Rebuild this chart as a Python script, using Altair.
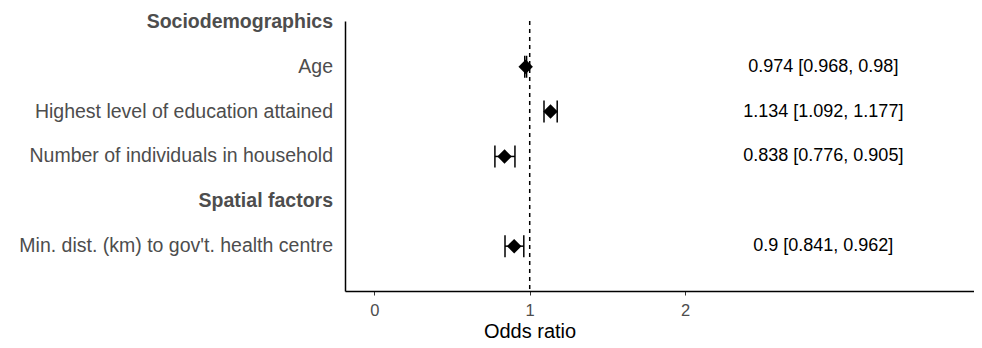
import altair as alt
import pandas as pd

# Data
labels = ["Age", "Highest level of education attained",
          "Number of individuals in household",
          "Min. dist. (km) to gov't. health centre"]
row_pos = [5, 4, 3, 1]
odds = [0.974, 1.134, 0.838, 0.9]
lower = [0.968, 1.092, 0.776, 0.841]
upper = [0.98, 1.177, 0.905, 0.962]
ci_text = ["0.974 [0.968, 0.98]", "1.134 [1.092, 1.177]",
           "0.838 [0.776, 0.905]", "0.9 [0.841, 0.962]"]

headers = ["Sociodemographics", "Spatial factors"]
header_pos = [6, 2]

x_ticks = [0, 1, 2]
ref_value = [1]
text_x = 2.89

df = pd.DataFrame({"label": labels, "y": row_pos, "or": odds,
                   "lo": lower, "hi": upper, "txt": ci_text})
dh = pd.DataFrame({"label": headers, "y": header_pos})
dref = pd.DataFrame({"x": ref_value})

FONT = "Liberation Sans"
xscale = alt.Scale(domain=[-0.189, 3.86], nice=False, zero=False)
yscale = alt.Scale(domain=[0, 6.02], nice=False, zero=False)

xaxis = alt.Axis(values=x_ticks, format="d", title="Odds ratio", grid=False,
                 domainColor="black", domainWidth=1.5,
                 tickColor="#333333", tickSize=4, tickWidth=1,
                 labelColor="#4D4D4D", labelFontSize=16.5,
                 labelFont=FONT, labelBaseline="alphabetic",
                 labelPadding=20,
                 titleFont=FONT, titleFontSize=20,
                 titleFontWeight="normal", titleColor="black",
                 titleX=184.5, titleY=46, titleAlign="center",
                 titleBaseline="alphabetic")
yaxis = alt.Axis(labels=False, ticks=False, title=None, grid=False,
                 domainColor="black", domainWidth=1.5)

base = alt.Chart(df)

ref = alt.Chart(dref).mark_rule(color="black", strokeDash=[4, 4],
                                strokeWidth=1.5).encode(
    x=alt.X("x:Q", scale=xscale, axis=xaxis))

bars = base.mark_rule(color="black", strokeWidth=1.5).encode(
    x=alt.X("lo:Q", scale=xscale, axis=xaxis), x2="hi:Q",
    y=alt.Y("y:Q", scale=yscale, axis=yaxis))

cap_lo = base.mark_rule(color="black", strokeWidth=1.5, yOffset=-11,
                        y2Offset=11).encode(
    x=alt.X("lo:Q", scale=xscale), y=alt.Y("y:Q", scale=yscale), y2="y:Q")
cap_hi = base.mark_rule(color="black", strokeWidth=1.5, yOffset=-11,
                        y2Offset=11).encode(
    x=alt.X("hi:Q", scale=xscale), y=alt.Y("y:Q", scale=yscale), y2="y:Q")

pts = base.mark_point(shape="diamond", filled=True, size=210, color="black",
                      opacity=1).encode(
    x=alt.X("or:Q", scale=xscale), y=alt.Y("y:Q", scale=yscale))

txt = base.mark_text(font=FONT, fontSize=18, color="black",
                     align="center", baseline="middle").encode(
    x=alt.datum(text_x, scale=xscale), y=alt.Y("y:Q", scale=yscale),
    text="txt:N")

ylab = base.mark_text(font=FONT, fontSize=19.5, color="#4D4D4D",
                      align="right", baseline="middle").encode(
    x=alt.value(-12), y=alt.Y("y:Q", scale=yscale), text="label:N")

hlab = alt.Chart(dh).mark_text(font=FONT, fontSize=19.5, color="#4D4D4D",
                               fontWeight="bold", align="right",
                               baseline="middle").encode(
    x=alt.value(-12), y=alt.Y("y:Q", scale=yscale), text="label:N")

chart = alt.layer(bars, ref, cap_lo, cap_hi, pts, txt, ylab, hlab).properties(
    width=629, height=270,
    autosize=alt.AutoSizeParams(type="none"),
    padding={"left": 337, "top": 13, "right": 0, "bottom": 49},
).configure_view(stroke=None).configure_axis(grid=False)

chart.save("out.html", embed_options={"renderer": "svg", "actions": False})
